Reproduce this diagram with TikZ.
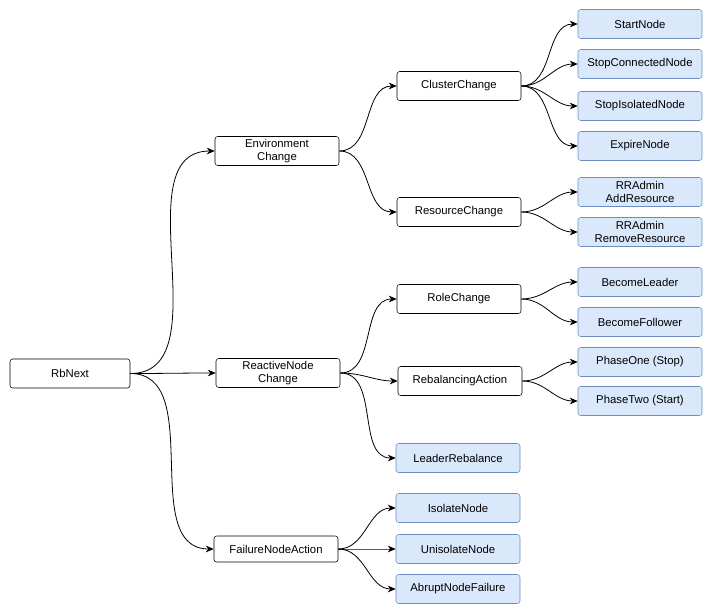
\documentclass[tikz,border=0pt]{standalone}
\usepackage{fontspec}
\setmainfont{Liberation Sans}
\usetikzlibrary{arrows.meta}
\definecolor{bfill}{HTML}{DAE8FC}
\definecolor{bdraw}{HTML}{6C8EBF}
\begin{document}
\begin{tikzpicture}[x=0.75pt,y=-0.75pt,
  box/.style={draw=black,fill=white,rounded corners=2pt,minimum width=93pt,minimum height=21.75pt,inner sep=1pt,align=center,font=\fontsize{8.5}{9.5}\selectfont},
  leaf/.style={box,draw=bdraw,fill=bfill},
  con/.style={-{Stealth[length=6pt,width=5pt]},line width=0.6pt}]
\useasboundingbox (0,0) rectangle (715,615);
\node[box,minimum width=90pt] (rb) at (70,373.5) {RbNext};
\node[box] (env) at (277,151) {Environment\\Change};
\node[box] (rnc) at (278,373) {ReactiveNode\\Change};
\node[box,minimum height=19.5pt] (fna) at (276,549) {FailureNodeAction};
\node[box] (cc) at (459,86) {ClusterChange};
\node[box] (resc) at (459,212) {ResourceChange};
\node[box] (role) at (459,299) {RoleChange};
\node[box] (reb) at (460,381) {RebalancingAction};
\node[leaf] (lr) at (458,458) {LeaderRebalance};
\node[leaf] (iso) at (458,508) {IsolateNode};
\node[leaf] (uni) at (458,549) {UnisolateNode};
\node[leaf] (abr) at (458,589) {AbruptNodeFailure};
\node[leaf] (sn) at (640,24) {StartNode};
\node[leaf] (scn) at (640,64) {StopConnectedNode};
\node[leaf] (sin) at (640,106) {StopIsolatedNode};
\node[leaf] (en) at (640,146) {ExpireNode};
\node[leaf] (ar) at (640,192) {RRAdmin\\AddResource};
\node[leaf] (rr) at (640,232) {RRAdmin\\RemoveResource};
\node[leaf] (bl) at (640,282) {BecomeLeader};
\node[leaf] (bf) at (640,322) {BecomeFollower};
\node[leaf] (p1) at (640,362) {PhaseOne (Stop)};
\node[leaf] (p2) at (640,401) {PhaseTwo (Start)};
\foreach \a/\b in {rb/env,rb/rnc,rb/fna,env/cc,env/resc,rnc/role,rnc/reb,rnc/lr,fna/iso,fna/uni,fna/abr,cc/sn,cc/scn,cc/sin,cc/en,resc/ar,resc/rr,role/bl,role/bf,reb/p1,reb/p2}
  \draw[con] (\a.east) to[out=0,in=180] (\b.west);
\end{tikzpicture}
\end{document}
